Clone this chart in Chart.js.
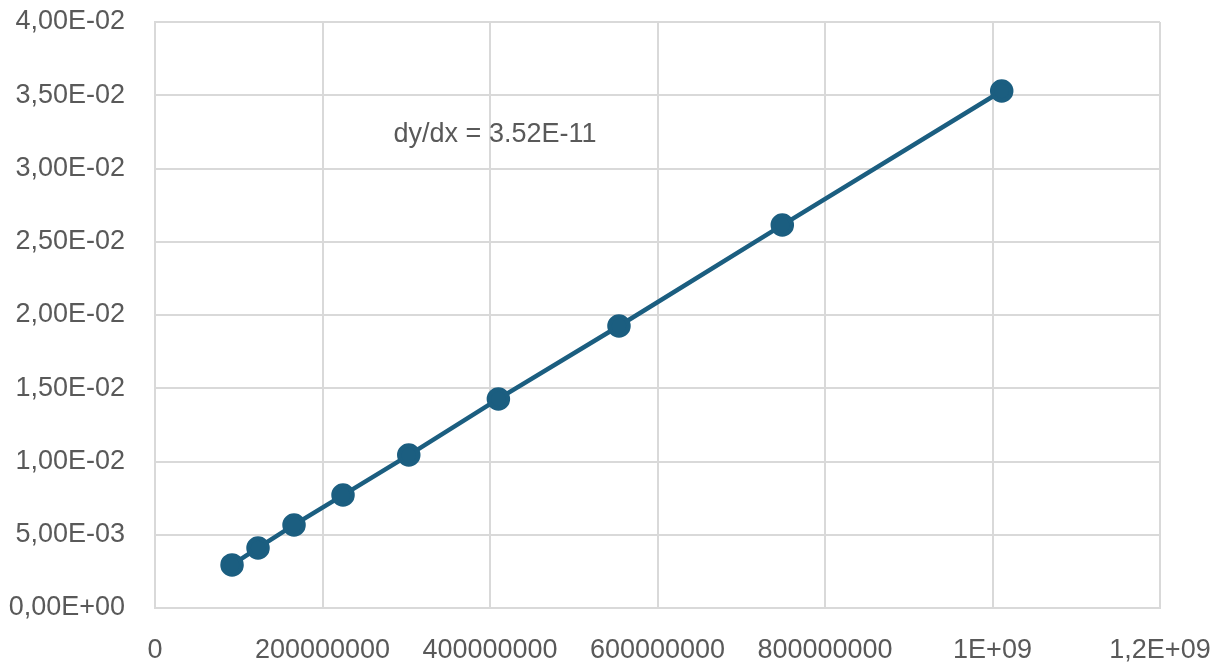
<!DOCTYPE html>
<html>
<head>
<meta charset="utf-8">
<script src="https://cdn.jsdelivr.net/npm/chart.js@4"></script>
<style>
  html, body { margin: 0; padding: 0; background: #fff; }
  #wrap { width: 1222px; height: 663px; }
</style>
</head>
<body>
<div id="wrap"><canvas id="slopeChart"></canvas></div>
<script>
// values
const xValues = [9.2e7, 1.23e8, 1.66e8, 2.245e8, 3.03e8, 4.10e8, 5.54e8, 7.49e8, 1.011e9]
const yValues = [0.00294, 0.00410, 0.00567, 0.00771, 0.01044, 0.01427, 0.01925, 0.02614, 0.03529]
const xTickLabels = ['0', '200000000', '400000000', '600000000', '800000000', '1E+09', '1,2E+09']
const yTickLabels = ['0,00E+00', '5,00E-03', '1,00E-02', '1,50E-02', '2,00E-02', '2,50E-02',
    '3,00E-02', '3,50E-02', '4,00E-02']
const slopeText = 'dy/dx = 3.52E-11'
const slopeAt = { x: 4.06e8, y: 0.0323 }

const points = xValues.map((x, i) => ({ x: x, y: yValues[i] }))

const labelFont = { family: 'Liberation Sans', size: 27 }
const gridColor = '#d9d9d9'
const textColor = '#595959'

const slopeLabel = {
    id: 'slopeLabel',
    afterDatasetsDraw: (chart) => {
        const ctx = chart.ctx
        const px = chart.scales.x.getPixelForValue(slopeAt.x)
        const py = chart.scales.y.getPixelForValue(slopeAt.y)
        ctx.save()
        ctx.font = '27px "Liberation Sans"'
        ctx.fillStyle = textColor
        ctx.textAlign = 'center'
        ctx.textBaseline = 'middle'
        ctx.fillText(slopeText, px, py)
        ctx.restore()
    }
}

const ctx = document.getElementById('slopeChart').getContext('2d');

new Chart(ctx, {
    type: 'scatter',
    data: {
        datasets: [{
            data: points,
            showLine: true,
            borderColor: '#1b5e80',
            backgroundColor: '#1b5e80',
            borderWidth: 4.5,
            pointRadius: 9.5,
            pointHoverRadius: 9.5,
        }]
    },
    options: {
        responsive: true,
        maintainAspectRatio: false,
        animation: false,
        layout: { padding: { top: 22, right: 62, left: 0, bottom: 0 } },
        scales: {
            x: {
                type: 'linear',
                min: 0,
                max: 1.2e9,
                afterBuildTicks: (scale) => {
                    scale.ticks = xTickLabels.map((t, i) => ({ value: i * 2e8 }))
                },
                afterFit: (scale) => {
                    scale.height = 55
                    scale.paddingLeft = 0
                    scale.paddingRight = 0
                },
                grid: { color: gridColor, lineWidth: 2, drawTicks: false },
                border: { color: gridColor, width: 2 },
                ticks: {
                    padding: 26,
                    color: textColor,
                    font: labelFont,
                    maxRotation: 0,
                    callback: (value, index) => xTickLabels[index]
                }
            },
            y: {
                type: 'linear',
                min: 0,
                max: 0.04,
                afterBuildTicks: (scale) => {
                    scale.ticks = yTickLabels.map((t, i) => ({ value: i * 0.005 }))
                },
                afterFit: (scale) => {
                    scale.width = 155
                    scale.paddingTop = 0
                    scale.paddingBottom = 0
                },
                grid: { color: gridColor, lineWidth: 2, drawTicks: false },
                border: { color: gridColor, width: 2 },
                ticks: {
                    padding: 30,
                    color: textColor,
                    font: labelFont,
                    callback: (value, index) => yTickLabels[index]
                }
            }
        },
        plugins: {
            legend: { display: false },
            tooltip: { enabled: false }
        }
    },
    plugins: [slopeLabel]
});
</script>
</body>
</html>
